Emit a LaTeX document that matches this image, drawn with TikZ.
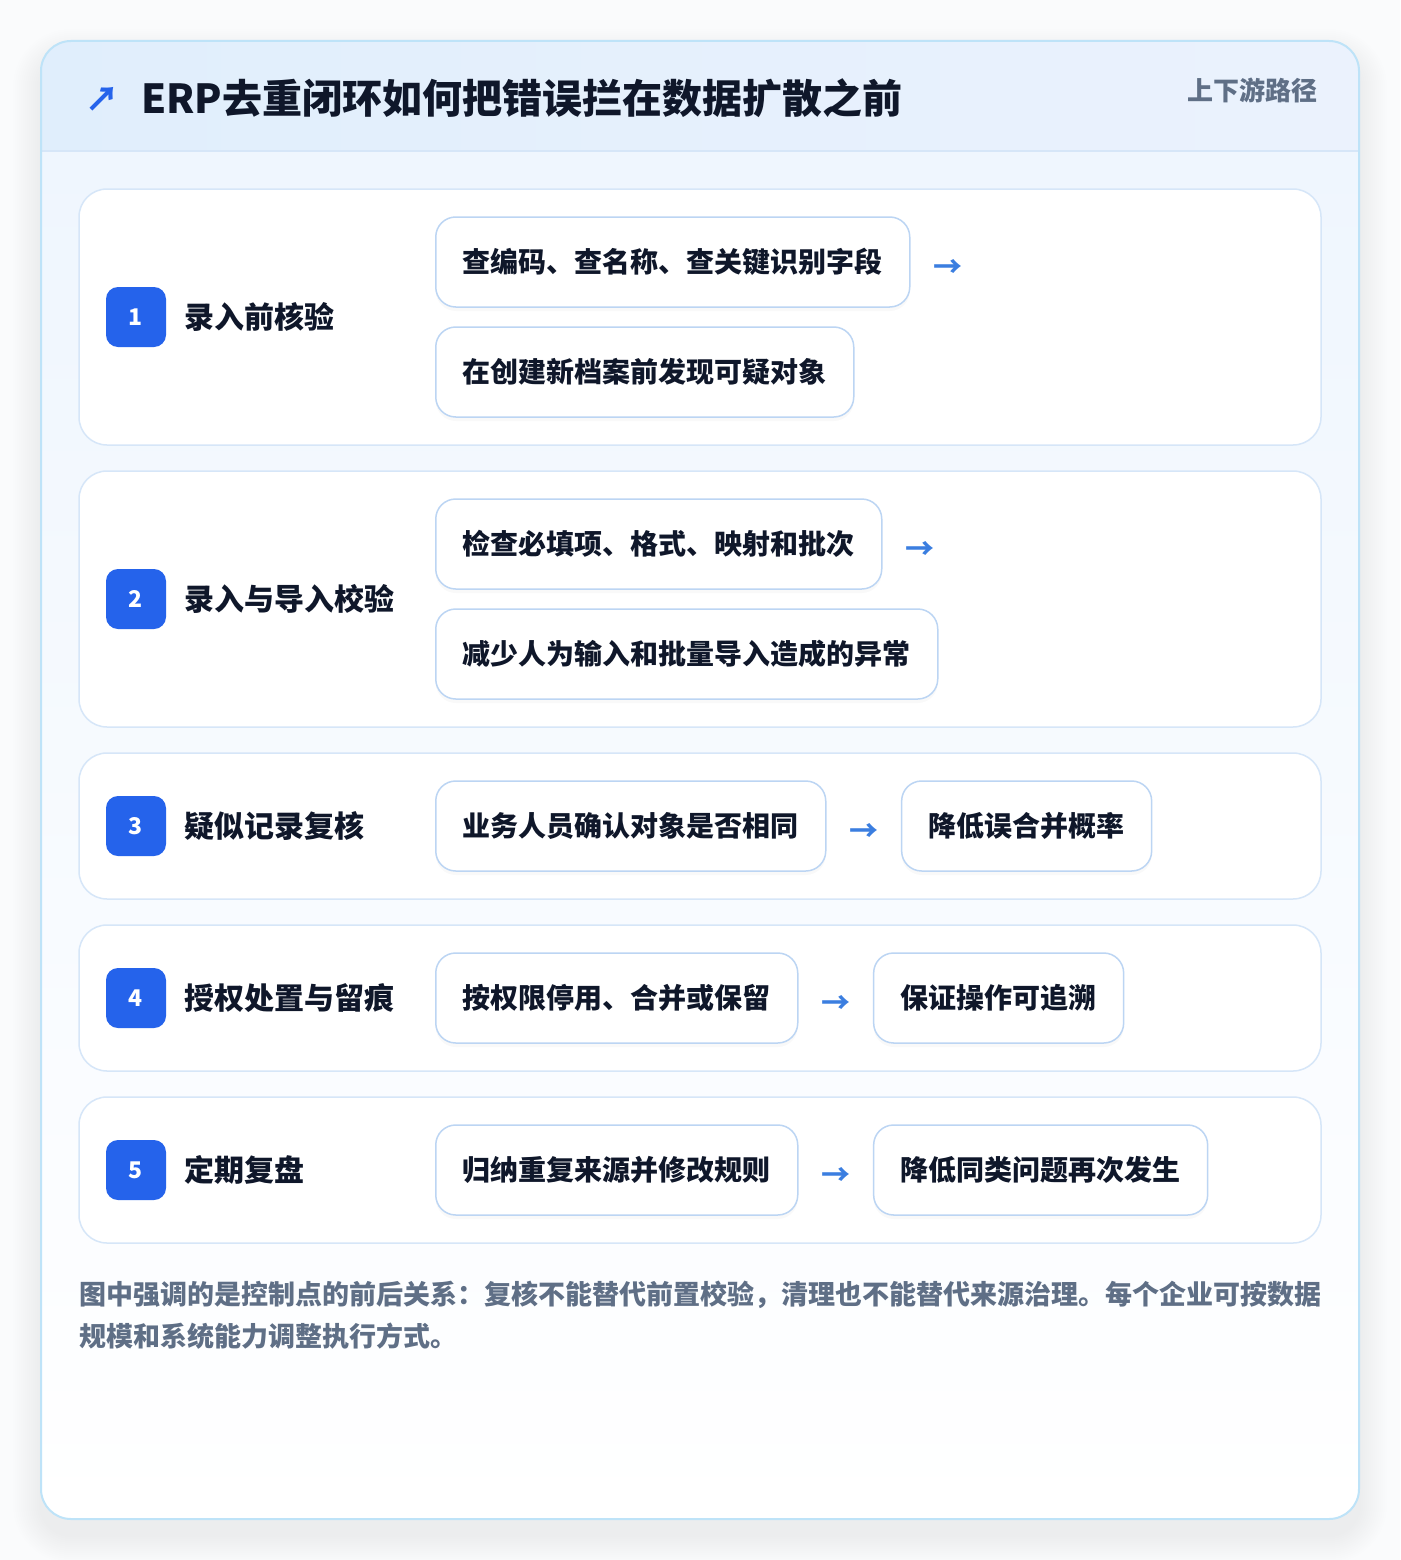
\documentclass[tikz,border=0pt]{standalone}
\usepackage{fontspec}
\setmainfont{Noto Sans CJK SC}
\usetikzlibrary{positioning, shadows}

\definecolor{inkdark}{HTML}{0F172A}
\definecolor{notegray}{HTML}{5F6F86}
\definecolor{badgeblue}{HTML}{2563EB}
\definecolor{arrowblue}{HTML}{3B7EE0}
\definecolor{cardline}{HTML}{BEE3F8}
\definecolor{rowline}{HTML}{D6E6F8}
\definecolor{boxline}{HTML}{BCD5F3}
\definecolor{pagebg}{HTML}{FAFBFC}

\tikzset{
  rowcard/.style={draw=rowline, line width=1.5pt, fill=white, rounded corners=28pt},
  badge/.style={fill=badgeblue, rounded corners=12pt, minimum size=60pt, inner sep=0pt, text=white, font=\fontsize{23}{23}\selectfont\bfseries},
  steplabel/.style={anchor=west, inner sep=0pt, text=inkdark, font=\fontsize{30}{30}\selectfont\bfseries},
  stepbox/.style={anchor=west, draw=boxline, line width=1.5pt, fill=white, rounded corners=20pt, minimum height=90pt, inner xsep=27pt, inner ysep=0pt, text=inkdark, font=\fontsize{28}{28}\selectfont\bfseries, drop shadow={shadow xshift=0pt, shadow yshift=-4pt, opacity=0.025, fill=black}},
  flowarrow/.style={inner sep=0pt, yshift=-6pt, text=arrowblue, font=\fontsize{29}{29}\selectfont\bfseries},
}

\begin{document}
\begin{tikzpicture}[x=1pt, y=-1pt]

	\fill[pagebg] (0,0) rectangle (1400,1560);
	\useasboundingbox (0,0) rectangle (1400,1560);

	%//soft shadow under the card
	\foreach \i in {1,...,14}
	\fill[black, opacity=0.005, rounded corners=30pt+2*\i] (41-2*\i,41-2*\i+16) rectangle (1359+2*\i,1519+2*\i+16);

	\begin{scope}
	\clip[rounded corners=30pt] (41,41) rectangle (1359,1519);
	\shade[left color={rgb,255:red,224;green,238;blue,252}, right color={rgb,255:red,235;green,242;blue,253}] (41,41) rectangle (1359,151);
	\shade[top color={rgb,255:red,239;green,246;blue,254}, bottom color=white] (41,151) rectangle (1359,1519);
	\draw[rowline, line width=1.5pt] (41,151) -- (1359,151);
	\end{scope}
	\draw[cardline, line width=2pt, rounded corners=30pt] (41,41) rectangle (1359,1519);

	\node[text=badgeblue, inner sep=0pt, font=\fontsize{34}{34}\selectfont\bfseries] (icon) at (102,99) {↗};
	\node[anchor=west, inner sep=0pt, text=inkdark, font=\fontsize{40}{40}\selectfont\bfseries] (title) at (141,98) {ERP去重闭环如何把错误拦在数据扩散之前};
	\node[anchor=east, inner sep=0pt, text=notegray, font=\fontsize{26}{26}\selectfont\bfseries] (tag) at (1318,90) {上下游路径};

	%//rows with two stacked boxes
	\foreach \n/\top/\bot/\ttl/\first/\second in {
		1/189/445/录入前核验/查编码、查名称、查关键识别字段/在创建新档案前发现可疑对象,
		2/471/727/录入与导入校验/检查必填项、格式、映射和批次/减少人为输入和批量导入造成的异常}
	{
	\pgfmathsetmacro\mid{(\top+\bot)/2}
	\draw[rowcard] (79,\top) rectangle (1321,\bot);
	\node[badge] (badge\n) at (136,\mid) {\n};
	\node[steplabel] (label\n) at (184,\mid) {\ttl};
	\node[stepbox] (first\n) at (435,\top+73) {\first};
	\node[flowarrow, right=23pt of first\n] (arrow\n) {→};
	\node[stepbox] (second\n) at (435,\bot-73) {\second};
	}

	%//rows with boxes side by side
	\foreach \n/\top/\ttl/\first/\second in {
		3/753/疑似记录复核/业务人员确认对象是否相同/降低误合并概率,
		4/925/授权处置与留痕/按权限停用、合并或保留/保证操作可追溯,
		5/1097/定期复盘/归纳重复来源并修改规则/降低同类问题再次发生}
	{
	\pgfmathsetmacro\mid{\top+73}
	\draw[rowcard] (79,\top) rectangle (1321,\top+146);
	\node[badge] (badge\n) at (136,\mid) {\n};
	\node[steplabel] (label\n) at (184,\mid) {\ttl};
	\node[stepbox] (first\n) at (435,\mid) {\first};
	\node[flowarrow, right=23pt of first\n] (arrow\n) {→};
	\node[stepbox, right=22pt of arrow\n.east |- first\n.east] (second\n) {\second};
	}

	\node[anchor=north west, inner sep=0pt, align=left, text=notegray, font=\fontsize{27}{42}\selectfont\bfseries] (note) at (79,1281)
	{图中强调的是控制点的前后关系：复核不能替代前置校验，清理也不能替代来源治理。每个企业可按数据\\规模和系统能力调整执行方式。};

\end{tikzpicture}
\end{document}
